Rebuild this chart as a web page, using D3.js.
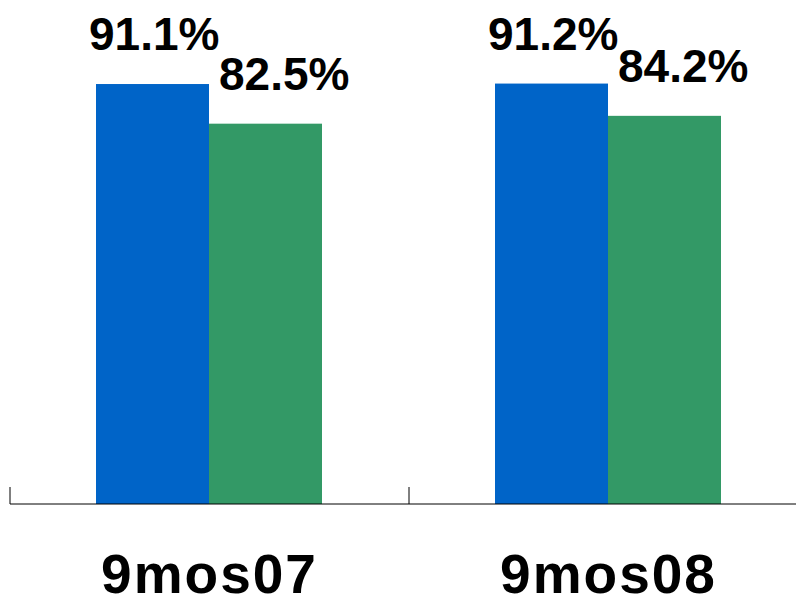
<!DOCTYPE html>
<html><head><meta charset="utf-8">
<script src="https://cdn.jsdelivr.net/npm/d3@7"></script>
<style>body{margin:0;background:#fff}svg{display:block}</style>
</head><body>
<svg id="chart" width="796" height="600"></svg>
<script>
const categories = ["9mos07", "9mos08"];
const seriesNames = ["A", "B"];
const seriesA = [91.1, 91.2];
const seriesB = [82.5, 84.2];
const colors = ["#0064c8", "#339966"];

const svg = d3.select("#chart");
const baseY = 504;
const x = d3.scaleBand().domain(categories).range([10, 808]);
const xs = d3.scaleBand().domain(seriesNames).range([86, 312]);
const y = d3.scaleLinear().domain([0, 100]).range([baseY, 43]);

const rows = categories.map((c, i) => ({ c, vals: [seriesA[i], seriesB[i]] }));

const g = svg.selectAll("g.cat").data(rows).enter().append("g")
	.attr("class", "cat")
	.attr("transform", d => `translate(${x(d.c)},0)`);

g.selectAll("rect").data(d => d.vals.map((v, k) => ({ v, k }))).enter().append("rect")
	.attr("x", d => xs(seriesNames[d.k]))
	.attr("y", d => y(d.v))
	.attr("width", xs.bandwidth())
	.attr("height", d => baseY - y(d.v))
	.attr("fill", d => colors[d.k]);

g.selectAll("text.val").data(d => d.vals.map((v, k) => ({ v, k }))).enter().append("text")
	.attr("class", "val")
	.attr("x", d => xs(seriesNames[d.k]) + (d.k === 0 ? -7 : 10))
	.attr("y", d => y(d.v) - 34)
	.attr("font-family", "Liberation Sans, Arial, sans-serif")
	.attr("font-weight", "bold")
	.attr("font-size", 46)
	.text(d => d.v.toFixed(1) + "%");

// axis line and ticks
svg.append("line").attr("x1", 10).attr("x2", 796).attr("y1", baseY).attr("y2", baseY)
	.attr("stroke", "#000").attr("stroke-width", 1);
svg.selectAll("line.tick").data(categories).enter().append("line")
	.attr("class", "tick")
	.attr("x1", d => x(d)).attr("x2", d => x(d))
	.attr("y1", baseY - 17).attr("y2", baseY)
	.attr("stroke", "#000");

svg.selectAll("text.cat").data(categories).enter().append("text")
	.attr("class", "cat")
	.attr("x", d => x(d) + x.bandwidth() / 2)
	.attr("y", 593)
	.attr("text-anchor", "middle")
	.attr("font-family", "Liberation Sans, Arial, sans-serif")
	.attr("font-weight", "bold")
	.attr("font-size", 55)
	.attr("letter-spacing", 2)
	.text(d => d);
</script>
</body></html>
